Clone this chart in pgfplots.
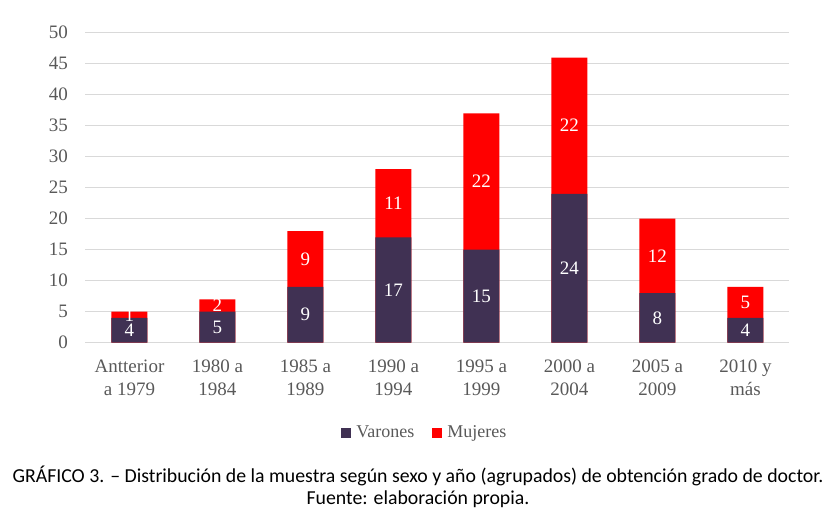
\documentclass[border=0pt]{standalone}
\usepackage{fontspec}
\setmainfont{Liberation Serif}
\newfontfamily\capfont{Carlito}
\usepackage{pgfplots}
\pgfplotsset{compat=1.18}
\definecolor{varon}{RGB}{64,49,83}
\definecolor{mujer}{RGB}{255,0,0}
\definecolor{tickgray}{RGB}{89,89,89}
\definecolor{gridgray}{RGB}{217,217,217}
\begin{document}
\begin{tikzpicture}
\begin{axis}[
  name=ax, at={(0,0)}, anchor=south west,
  scale only axis, width=704pt, height=310pt,
  xmin=-0.5, xmax=7.5, ymin=0, ymax=50,
  ytick={0,5,...,50},
  xtick={0,...,7},
  xticklabels={{Antterior\\a 1979},{1980 a\\1984},{1985 a\\1989},{1990 a\\1994},{1995 a\\1999},{2000 a\\2004},{2005 a\\2009},{2010 y\\más}},
  axis line style={draw=none},
  major tick length=0pt,
  ymajorgrids, grid style={gridgray, line width=1.2pt},
  tick label style={font=\fontsize{19}{23}\selectfont, text=tickgray},
  xticklabel style={align=center, yshift=-14pt},
  yticklabel style={xshift=-14pt},
  /pgf/number format/assume math mode=true,
  legend columns=2,
  legend style={draw=none, fill=none, at={(0.482,-0.29)}, anchor=center,
    font=\fontsize{18}{22}\selectfont, text=tickgray,
    /tikz/every odd column/.append style={column sep=3pt},
    /tikz/every even column/.append style={column sep=16pt}},
  legend cell align=left,
  legend image code/.code={\fill[#1] (0pt,-5pt) rectangle (10pt,5pt);},
]
% total height (Varones + Mujeres), drawn in red
\addplot[ybar, bar width=36pt, bar shift=0pt, fill=mujer, draw=none, forget plot]
  coordinates {(0,5)(1,7)(2,18)(3,28)(4,37)(5,46)(6,20)(7,9)};
% Varones
\addplot[ybar, bar width=36pt, bar shift=0pt, fill=varon, draw=none, forget plot]
  coordinates {(0,4)(1,5)(2,9)(3,17)(4,15)(5,24)(6,8)(7,4)};
% labels
\addplot[draw=none, mark=none, forget plot, nodes near coords, point meta=explicit symbolic,
  every node near coord/.append style={anchor=center, text=white, font=\fontsize{19}{22}\selectfont}]
  coordinates {(0,2)[4] (1,2.5)[5] (2,4.5)[9] (3,8.5)[17] (4,7.5)[15] (5,12)[24] (6,4)[8] (7,2)[4]
               (0,4.5)[1] (1,6)[2] (2,13.5)[9] (3,22.5)[11] (4,26)[22] (5,35)[22] (6,14)[12] (7,6.5)[5]};
\addlegendimage{fill=varon, draw=none}
\addlegendentry{Varones}
\addlegendimage{fill=mujer, draw=none}
\addlegendentry{Mujeres}
\end{axis}
\node[font=\capfont\fontsize{19.8}{22.5}\selectfont, align=center, anchor=center]
  at ([xshift=332.5pt,yshift=-144pt]ax.south west)
  {GRÁFICO 3. – Distribución de la muestra según sexo y año (agrupados) de obtención grado de doctor.\\Fuente: elaboración propia.};
\pgfresetboundingbox
\path ([xshift=-85.5pt,yshift=-174.3pt]ax.south west) rectangle ++(836pt,517pt);
\end{tikzpicture}
\end{document}
